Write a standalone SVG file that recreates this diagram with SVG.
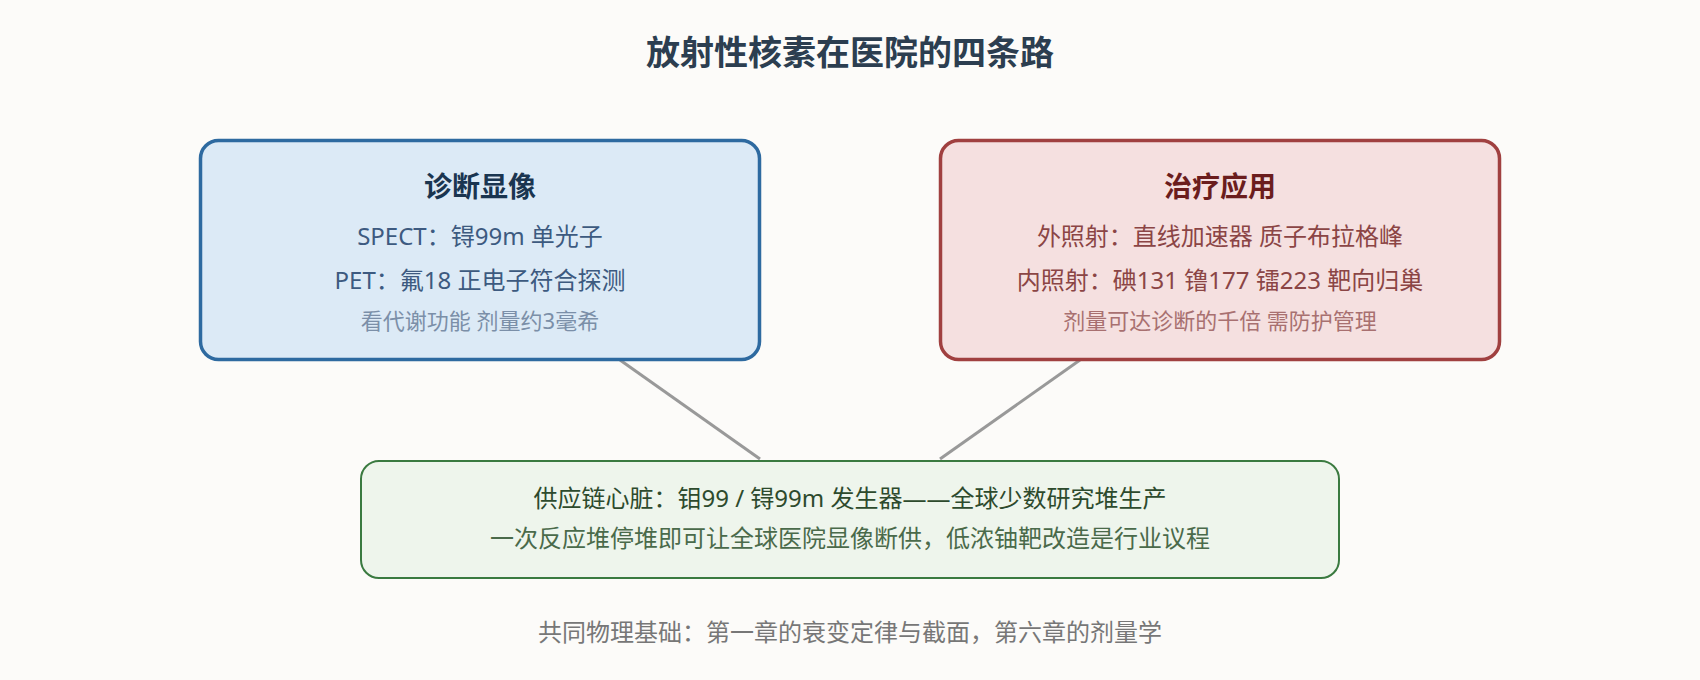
<svg xmlns="http://www.w3.org/2000/svg" width="1700" height="680" viewBox="0 0 1700 680">
  <style>
    text { font-family: "Noto Sans", "Noto Sans CJK SC", sans-serif; text-anchor: middle; }
    .title { font-size: 34px; font-weight: bold; fill: #2c3e50; }
    .h { font-size: 28px; font-weight: bold; }
    .l { font-size: 24px; }
    .s { font-size: 22px; }
    .conn { stroke: #999999; stroke-width: 3; fill: none; }
  </style>
  <rect x="0" y="0" width="1700" height="680" fill="#fcfbf9"/>
  <text class="title" x="850" y="65">放射性核素在医院的四条路</text>

  <g id="connectors">
    <line class="conn" x1="620" y1="360" x2="760" y2="459"/>
    <line class="conn" x1="1080" y1="360" x2="940" y2="459"/>
  </g>

  <g id="diagnosis">
    <rect x="200.5" y="140.5" width="559" height="219" rx="18" fill="#dceaf6" stroke="#2e6aa0" stroke-width="3.5"/>
    <text class="h" x="480" y="197" fill="#1a3550">诊断显像</text>
    <text class="l" x="480" y="245" fill="#3d5a80">SPECT：锝99m 单光子</text>
    <text class="l" x="480" y="289" fill="#3d5a80">PET：氟18 正电子符合探测</text>
    <text class="s" x="480" y="329" fill="#7b8fa8">看代谢功能 剂量约3毫希</text>
  </g>

  <g id="therapy">
    <rect x="940.5" y="140.5" width="559" height="219" rx="18" fill="#f5e0e0" stroke="#a04040" stroke-width="3.5"/>
    <text class="h" x="1220" y="197" fill="#6b1d1d">治疗应用</text>
    <text class="l" x="1220" y="245" fill="#8b4545">外照射：直线加速器 质子布拉格峰</text>
    <text class="l" x="1220" y="289" fill="#8b4545">内照射：碘131 镥177 镭223 靶向归巢</text>
    <text class="s" x="1220" y="329" fill="#a87070">剂量可达诊断的千倍 需防护管理</text>
  </g>

  <g id="supply">
    <rect x="361" y="461" width="978" height="117" rx="18" fill="#eef5ec" stroke="#3a7a40" stroke-width="2"/>
    <text class="l" x="850" y="507" fill="#2d4a2d">供应链心脏：钼99 / 锝99m 发生器——全球少数研究堆生产</text>
    <text class="l" x="850" y="547" fill="#4a6a4a">一次反应堆停堆即可让全球医院显像断供，低浓铀靶改造是行业议程</text>
  </g>

  <text x="850" y="641" font-size="24" fill="#777777">共同物理基础：第一章的衰变定律与截面，第六章的剂量学</text>
</svg>
